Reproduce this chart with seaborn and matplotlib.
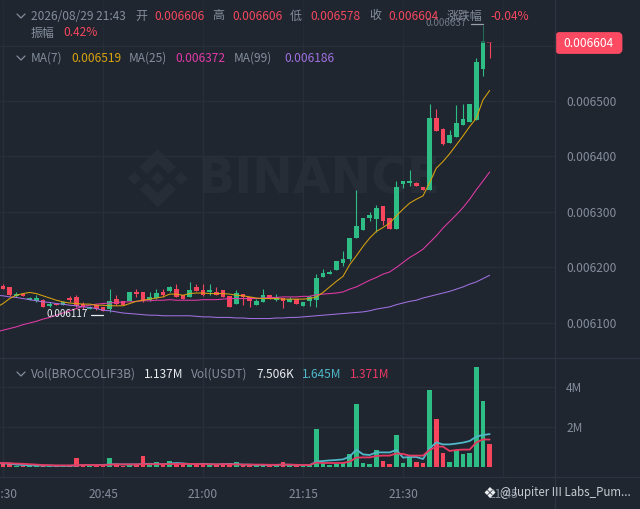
import numpy as np
import pandas as pd
import matplotlib
matplotlib.use("Agg")
import matplotlib.pyplot as plt
import seaborn as sns
from matplotlib.lines import Line2D
from matplotlib.patches import FancyBboxPatch, Polygon, Rectangle
from matplotlib.transforms import Affine2D

# =========================
# Data (prices in 1e-6 USDT, one candle per minute from 20:29)
# =========================
opens = [6172,
         6167, 6164, 6149, 6152, 6142, 6140, 6142, 6131, 6134, 6132,
         6145, 6147, 6135, 6126, 6132, 6129, 6125, 6143, 6139, 6139,
         6156, 6155, 6142, 6145, 6155, 6157, 6162, 6150, 6147, 6165,
         6159, 6155, 6156, 6159, 6149, 6134, 6153, 6146, 6132, 6138,
         6150, 6141, 6145, 6137, 6143, 6130, 6140, 6141, 6182, 6189,
         6196, 6208, 6215, 6253, 6268, 6289, 6287, 6311, 6289, 6270,
         6350, 6353, 6353, 6345, 6340, 6469, 6450, 6424, 6435, 6457,
         6463, 6466, 6558, 6606]
highs = [6174,
         6171, 6164, 6156, 6152, 6146, 6150, 6144, 6138, 6134, 6139,
         6148, 6150, 6137, 6130, 6134, 6129, 6162, 6150, 6139, 6156,
         6162, 6156, 6156, 6162, 6161, 6166, 6170, 6150, 6174, 6171,
         6171, 6171, 6164, 6160, 6149, 6159, 6153, 6146, 6143, 6161,
         6150, 6152, 6145, 6146, 6143, 6137, 6150, 6188, 6197, 6195,
         6212, 6230, 6253, 6340, 6290, 6300, 6313, 6311, 6289, 6356,
         6356, 6375, 6354, 6345, 6495, 6486, 6452, 6448, 6493, 6495,
         6495, 6577, 6637, 6606]
lows = [6168,
        6161, 6149, 6147, 6148, 6141, 6138, 6128, 6129, 6132, 6132,
        6137, 6129, 6125, 6125, 6123, 6121, 6120, 6132, 6132, 6139,
        6146, 6137, 6140, 6144, 6147, 6156, 6147, 6143, 6147, 6158,
        6149, 6150, 6151, 6146, 6129, 6134, 6132, 6129, 6132, 6137,
        6144, 6140, 6127, 6137, 6135, 6130, 6131, 6128, 6182, 6189,
        6196, 6203, 6212, 6253, 6268, 6284, 6264, 6277, 6270, 6270,
        6344, 6347, 6346, 6340, 6340, 6446, 6421, 6424, 6435, 6457,
        6463, 6466, 6545, 6578]
closes = [6168,
          6162, 6151, 6153, 6149, 6145, 6145, 6129, 6135, 6132, 6138,
          6141, 6131, 6128, 6129, 6126, 6122, 6139, 6135, 6132, 6156,
          6153, 6140, 6146, 6154, 6150, 6165, 6147, 6143, 6159, 6158,
          6150, 6159, 6151, 6146, 6129, 6154, 6146, 6139, 6140, 6150,
          6144, 6146, 6139, 6144, 6135, 6137, 6146, 6181, 6190, 6192,
          6212, 6215, 6253, 6274, 6290, 6295, 6308, 6284, 6270, 6345,
          6356, 6356, 6346, 6340, 6469, 6446, 6422, 6438, 6460, 6468,
          6495, 6570, 6608, 6604]

ma7 = [6128,
       6135, 6144, 6150, 6153, 6155, 6153, 6149, 6145, 6141, 6138,
       6136, 6135, 6134, 6134, 6132, 6132, 6131, 6131, 6131, 6135,
       6139, 6141, 6143, 6145, 6147, 6152, 6152, 6150, 6153, 6154,
       6154, 6153, 6153, 6153, 6152, 6150, 6149, 6147, 6145, 6144,
       6144, 6144, 6143, 6143, 6143, 6143, 6144, 6147, 6155, 6165,
       6175, 6184, 6205, 6221, 6238, 6253, 6265, 6272, 6280, 6293,
       6305, 6316, 6323, 6329, 6353, 6379, 6391, 6405, 6421, 6437,
       6454, 6469, 6502, 6519]
ma25 = [6084,
        6087, 6090, 6093, 6097, 6100, 6103, 6107, 6110, 6114, 6118,
        6122, 6126, 6130, 6132, 6134, 6135, 6136, 6137, 6138, 6138,
        6139, 6140, 6140, 6141, 6141, 6142, 6141, 6141, 6141, 6141,
        6142, 6142, 6142, 6143, 6144, 6144, 6144, 6144, 6144, 6145,
        6146, 6146, 6147, 6147, 6147, 6148, 6148, 6151, 6152, 6153,
        6154, 6156, 6161, 6165, 6171, 6177, 6182, 6188, 6192, 6200,
        6209, 6218, 6225, 6233, 6245, 6257, 6271, 6283, 6295, 6308,
        6323, 6340, 6356, 6372]
ma99 = [6150,
        6149, 6147, 6146, 6144, 6142, 6140, 6138, 6137, 6135, 6134,
        6132, 6131, 6129, 6128, 6126, 6123, 6122, 6120, 6118, 6117,
        6116, 6115, 6114, 6114, 6113, 6113, 6113, 6113, 6113, 6112,
        6111, 6111, 6110, 6110, 6110, 6109, 6109, 6108, 6108, 6108,
        6108, 6109, 6109, 6110, 6110, 6111, 6112, 6113, 6114, 6115,
        6116, 6117, 6118, 6119, 6120, 6122, 6125, 6127, 6129, 6133,
        6136, 6139, 6141, 6145, 6148, 6151, 6154, 6157, 6161, 6165,
        6170, 6174, 6180, 6186]

# volumes in millions
volumes = [0.18,
           0.17, 0.16, 0.05, 0.06, 0.08, 0.06, 0.08, 0.05, 0.05, 0.05,
           0.08, 0.47, 0.10, 0.05, 0.05, 0.10, 0.47, 0.12, 0.06, 0.08,
           0.12, 0.53, 0.12, 0.25, 0.12, 0.30, 0.20, 0.15, 0.15, 0.15,
           0.20, 0.12, 0.10, 0.18, 0.20, 0.25, 0.12, 0.12, 0.08, 0.08,
           0.10, 0.08, 0.27, 0.08, 0.10, 0.06, 0.12, 1.92, 0.20, 0.08,
           0.15, 0.20, 0.67, 3.17, 0.20, 0.15, 0.87, 0.28, 0.17, 1.58,
           0.22, 0.52, 0.23, 0.18, 3.83, 2.42, 0.72, 0.25, 0.85, 0.67,
           0.70, 5.02, 3.30, 1.17]
vol_ma_fast = [0.20,
               0.18, 0.17, 0.12, 0.10, 0.09, 0.08, 0.07, 0.07, 0.06, 0.06,
               0.06, 0.08, 0.10, 0.10, 0.10, 0.10, 0.13, 0.14, 0.13, 0.13,
               0.13, 0.15, 0.16, 0.15, 0.14, 0.17, 0.20, 0.18, 0.15, 0.15,
               0.16, 0.14, 0.13, 0.14, 0.15, 0.14, 0.12, 0.12, 0.10, 0.10,
               0.10, 0.10, 0.12, 0.11, 0.10, 0.09, 0.09, 0.27, 0.30, 0.33,
               0.35, 0.38, 0.52, 0.87, 0.63, 0.60, 0.73, 0.73, 0.73, 0.85,
               0.47, 0.50, 0.50, 0.40, 0.93, 1.23, 1.13, 1.13, 1.17, 1.22,
               1.30, 1.52, 1.60, 1.645]
vol_ma_slow = [0.20,
               0.20, 0.19, 0.17, 0.16, 0.14, 0.12, 0.10, 0.09, 0.08, 0.08,
               0.08, 0.09, 0.10, 0.10, 0.10, 0.09, 0.12, 0.13, 0.13, 0.13,
               0.13, 0.14, 0.14, 0.14, 0.14, 0.15, 0.15, 0.16, 0.15, 0.15,
               0.14, 0.14, 0.13, 0.14, 0.13, 0.13, 0.12, 0.12, 0.12, 0.12,
               0.11, 0.11, 0.12, 0.12, 0.11, 0.10, 0.10, 0.22, 0.20, 0.20,
               0.20, 0.20, 0.27, 0.47, 0.48, 0.48, 0.55, 0.57, 0.57, 0.68,
               0.65, 0.57, 0.57, 0.57, 0.85, 1.02, 1.02, 0.80, 0.85, 0.87,
               0.87, 1.23, 1.38, 1.371]

price_ticks = [6100, 6200, 6300, 6400, 6500, 6600]
price_labels = ["0.006100", "0.006200", "0.006300", "0.006400", "0.006500", ""]
vol_ticks = [2, 4]
vol_labels = ["2M", "4M"]
time_ticks = [1, 16, 31, 46, 61, 76]
time_labels = ["20:30", "20:45", "21:00", "21:15", "21:30", "21:45"]

df = pd.DataFrame({
    "minute": np.arange(len(opens)),
    "open": opens,
    "high": highs,
    "low": lows,
    "close": closes,
    "ma7": ma7,
    "ma25": ma25,
    "ma99": ma99,
    "volume": volumes,
    "vol_fast": vol_ma_fast,
    "vol_slow": vol_ma_slow
})
df["side"] = np.where(df["close"] >= df["open"], "up", "down")

# =========================
# Colors
# =========================
bg = "#1f2630"
grid_c = "#282f3a"
sep_c = "#2d3440"
text_c = "#848e9c"
green = "#2ebd85"
red = "#f6465d"
c_ma7 = "#d9a30f"
c_ma25 = "#e23aa8"
c_ma99 = "#a070e0"
side_colors = {"up": green, "down": red}

sns.set_theme(style="dark", rc={
    "figure.facecolor": bg,
    "axes.facecolor": bg,
    "savefig.facecolor": bg,
    "axes.grid": True,
    "grid.color": grid_c,
    "grid.linewidth": 0.9,
})
plt.rcParams["font.family"] = ["Noto Sans CJK SC", "DejaVu Sans"]

W, H = 640, 509
fig = plt.figure(figsize=(W / 100, H / 100), dpi=100)

# pixel coordinates measured from the top left corner
px = Affine2D().scale(1, -1).translate(0, H)

ax = fig.add_axes([0, (H - 358) / H, 555 / W, 358 / H])
ax_v = fig.add_axes([0, (H - 477) / H, 555 / W, 119 / H], sharex=ax)

# =========================
# Watermark
# =========================
cx, cy = 157.7, 178.3
logo = [
    [(-6.7, 0), (0, -6.7), (6.7, 0), (0, 6.7)],
    [(-30, 0), (-23.3, -6.7), (-16.6, 0), (-23.3, 6.7)],
    [(30, 0), (23.3, -6.7), (16.6, 0), (23.3, 6.7)],
    [(0, -29.3), (18.3, -11), (10.7, -4.3), (0, -15), (-10.7, -4.3), (-18.3, -11)],
    [(0, 29.3), (18.3, 11), (10.7, 4.3), (0, 15), (-10.7, 4.3), (-18.3, 11)],
]
for shape in logo:
    ax.add_patch(Polygon([(cx + a, cy + b) for a, b in shape], closed=True,
                         transform=px, color="#272d37", lw=0, zorder=0.5))
ax.text(198, 179, "BINANCE", transform=px, color="#272d37", fontsize=35,
        fontweight="bold", family="DejaVu Sans", va="center", ha="left", zorder=0.5)

# =========================
# Candles
# =========================
wick_colors = df["side"].map(side_colors)
ax.vlines(df["minute"], df["low"], df["high"], colors=wick_colors, linewidth=0.8, zorder=2)
ax.bar(df["minute"], (df["close"] - df["open"]).abs().clip(lower=1),
       bottom=df[["open", "close"]].min(axis=1), width=0.7,
       color=wick_colors, linewidth=0, zorder=2)

for col, color in [("ma99", c_ma99), ("ma25", c_ma25), ("ma7", c_ma7)]:
    sns.lineplot(data=df, x="minute", y=col, color=color, linewidth=0.75,
                 ax=ax, zorder=3, legend=False, errorbar=None)

# header fades what runs under it
ax.add_patch(Rectangle((0, 0), 555, 43, transform=px, color=bg, alpha=0.55, lw=0, zorder=4))
ax.text(467, 23, "0.006637", transform=px, color="#6f7885", fontsize=7.2,
        ha="right", va="center", zorder=5)
ax.add_line(Line2D([471, 483], [24, 24], transform=px, color="#9aa2ad", lw=0.9, zorder=5))

ax.text(88, 314, "0.006117", transform=px, color="#eaecef", fontsize=7.2,
        ha="right", va="center", zorder=5)
ax.add_line(Line2D([91, 103], [314.5, 314.5], transform=px, color="#eaecef", lw=0.9, zorder=5))

ax.set_xlim(0.55, 83.8)
ax.set_ylim(6036.9, 6682)
ax.set_xlabel("")
ax.set_ylabel("")
ax.yaxis.tick_right()
ax.set_yticks(price_ticks, price_labels)
ax.tick_params(axis="y", length=0, pad=8, labelsize=8.6, labelcolor=text_c)
ax.tick_params(axis="x", length=0, labelbottom=False)

# =========================
# Volume
# =========================
sns.barplot(data=df, x="minute", y="volume", hue="side", palette=side_colors,
            native_scale=True, dodge=False, width=0.7, errorbar=None, saturation=1,
            legend=False, linewidth=0, ax=ax_v, zorder=2)
sns.lineplot(data=df, x="minute", y="vol_fast", color="#4fb8c9", linewidth=1.3,
             ax=ax_v, zorder=3, legend=False, errorbar=None)
sns.lineplot(data=df, x="minute", y="vol_slow", color="#e63a62", linewidth=1.3,
             ax=ax_v, zorder=4, legend=False, errorbar=None)

ax_v.set_xlim(0.55, 83.8)
ax_v.set_ylim(-0.5, 5.45)
ax_v.set_xlabel("")
ax_v.set_ylabel("")
ax_v.yaxis.tick_right()
ax_v.set_yticks(vol_ticks, vol_labels)
ax_v.set_xticks(time_ticks, time_labels)
ax_v.tick_params(axis="y", length=0, pad=8, labelsize=8.6, labelcolor=text_c)
ax_v.tick_params(axis="x", length=0, pad=8, labelsize=8.6, labelcolor=text_c)

for a in (ax, ax_v):
    a.set_axisbelow(True)
    for s in a.spines.values():
        s.set_visible(False)

# =========================
# Pane separators
# =========================
fig.add_artist(Line2D([555, 555], [0, H], transform=px, color=sep_c, lw=1))
fig.add_artist(Line2D([0, W], [358, 358], transform=px, color=sep_c, lw=1))
fig.add_artist(Line2D([0, W], [477, 477], transform=px, color=sep_c, lw=1))

# =========================
# Header texts
# =========================
def label(x, y, s, color=text_c, size=8.6):
    fig.text(x, y, s, transform=px, color=color, fontsize=size, ha="left", va="center", zorder=10)

def chevron(y):
    fig.add_artist(Line2D([17, 21, 25], [y - 2, y + 2, y - 2], transform=px, color=text_c, lw=0.9))

chevron(16)
label(31, 16, "2026/08/29 21:43")
label(135, 16, "开")
label(154.5, 16, "0.006606", red)
label(212.5, 16, "高")
label(232.5, 16, "0.006606", red)
label(290, 16, "低")
label(310, 16, "0.006578", red)
label(369, 16, "收")
label(388.5, 16, "0.006604", red)
label(447, 16, "涨跌幅")
label(490.5, 16, "-0.04%", red)
label(31, 33, "振幅")
label(63, 33, "0.42%", red)

chevron(58)
label(31, 58.5, "MA(7)")
label(71, 58.5, "0.006519", c_ma7)
label(129, 58.5, "MA(25)")
label(175.5, 58.5, "0.006372", c_ma25)
label(233.5, 58.5, "MA(99)")
label(284, 58.5, "0.006186", c_ma99)

chevron(374)
label(31, 374.5, "Vol(BROCCOLIF3B)")
label(144, 374.5, "1.137M", "#eaecef")
label(191, 374.5, "Vol(USDT)")
label(256, 374.5, "7.506K", "#eaecef")
label(302, 374.5, "1.645M", "#4fb8c9")
label(350, 374.5, "1.371M", "#e63a62")

# current price tag
fig.add_artist(FancyBboxPatch((556.5, 33.5), 64.5, 19, boxstyle="round,pad=0,rounding_size=3",
                              transform=px, facecolor="#fb4a62", edgecolor="#fb4a62", lw=2))
fig.text(588.5, 43.5, "0.006604", transform=px, color="white", fontsize=8.6,
         ha="center", va="center", zorder=10)

# =========================
# Repost watermark
# =========================
mark = [
    [(0, -5.5), (2.5, -3), (0, -0.5), (-2.5, -3)],
    [(0, 5.5), (2.5, 3), (0, 0.5), (-2.5, 3)],
    [(-5.5, 0), (-3, -2.5), (-0.5, 0), (-3, 2.5)],
    [(5.5, 0), (3, -2.5), (0.5, 0), (3, 2.5)],
]
for shape in mark:
    fig.add_artist(Polygon([(490 + a, 492.5 + b) for a, b in shape], closed=True,
                           transform=px, color="#eaecef", lw=0))
label(500.5, 492.5, "@Jupiter III Labs_Pum...", "#c8ccd2", 8.3)

fig.savefig("out.png", dpi=100)
